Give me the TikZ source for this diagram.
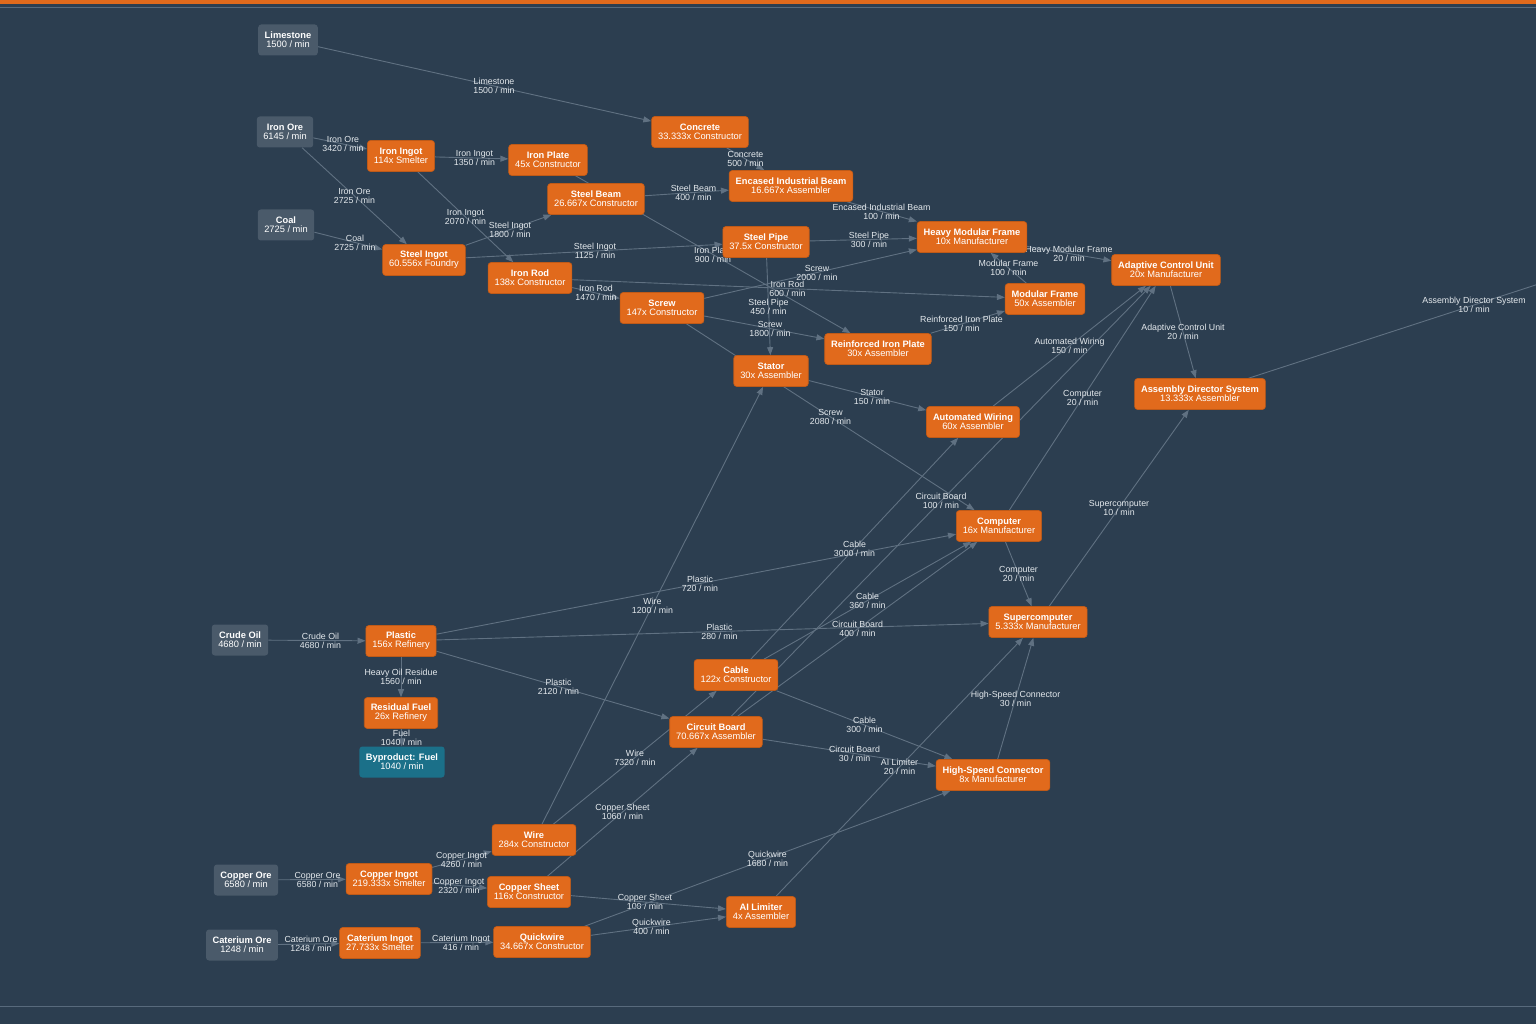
\documentclass[tikz,border=0pt]{standalone}
\usepackage{fontspec}
\setmainfont{Liberation Sans}
\usetikzlibrary{arrows.meta, positioning, calc}
\definecolor{bgcolor}{RGB}{44,62,80}
\definecolor{unitcolor}{RGB}{225,106,28}
\definecolor{srccolor}{RGB}{74,90,106}
\definecolor{fuelcolor}{RGB}{27,112,137}
\definecolor{flowcolor}{RGB}{96,113,130}
\definecolor{lblcolor}{RGB}{228,233,237}
\definecolor{rulecolor}{RGB}{88,106,124}
\pgfdeclarelayer{back}
\pgfdeclarelayer{flows}
\pgfsetlayers{back,flows,main}

\begin{document}
\begin{tikzpicture}[
    x=1pt, y=-1pt,
    box/.style={minimum height=31pt, inner xsep=6.5pt, inner ysep=0pt, rounded corners=3pt, align=center, text=white, font=\fontsize{9.3}{9}\selectfont},
    unit/.style={box, fill=unitcolor, draw=unitcolor!85!black, line width=0.6pt},
    src/.style={box, fill=srccolor},
    byprod/.style={box, fill=fuelcolor},
    flow/.style={-{Triangle[length=8pt, width=6pt]}, draw=flowcolor, line width=0.9pt},
    lbl/.style={text=lblcolor, align=center, inner sep=0pt, font=\fontsize{8.8}{9}\selectfont}
]
    \useasboundingbox (0,0) rectangle (1536,1024);

    % Page
    \begin{pgfonlayer}{back}
        \fill[bgcolor] (0,0) rectangle (1536,1024);
        \fill[unitcolor] (0,0) rectangle (1536,4);
        \draw[rulecolor, line width=0.8pt] (0,7) -- (1536,7);
        \draw[rulecolor, line width=0.8pt] (0,1006) -- (1536,1006);
    \end{pgfonlayer}

    % Raw resources
    \node[src] (limestone) at (288,40) {\textbf{Limestone}\\1500 / min};
    \node[src] (ironore) at (285,132) {\textbf{Iron Ore}\\6145 / min};
    \node[src] (coal) at (286,225) {\textbf{Coal}\\2725 / min};
    \node[src] (crudeoil) at (240,640) {\textbf{Crude Oil}\\4680 / min};
    \node[src] (copperore) at (246,880) {\textbf{Copper Ore}\\6580 / min};
    \node[src] (cateriumore) at (242,945) {\textbf{Caterium Ore}\\1248 / min};

    % Production
    \node[unit] (concrete) at (700,132) {\textbf{Concrete}\\33.333x Constructor};
    \node[unit] (ironingot) at (401,156) {\textbf{Iron Ingot}\\114x Smelter};
    \node[unit] (ironplate) at (548,160) {\textbf{Iron Plate}\\45x Constructor};
    \node[unit] (steelbeam) at (596,199) {\textbf{Steel Beam}\\26.667x Constructor};
    \node[unit] (encbeam) at (791,186) {\textbf{Encased Industrial Beam}\\16.667x Assembler};
    \node[unit] (steelingot) at (424,260) {\textbf{Steel Ingot}\\60.556x Foundry};
    \node[unit] (ironrod) at (530,278) {\textbf{Iron Rod}\\138x Constructor};
    \node[unit] (steelpipe) at (766,242) {\textbf{Steel Pipe}\\37.5x Constructor};
    \node[unit] (heavyframe) at (972,237) {\textbf{Heavy Modular Frame}\\10x Manufacturer};
    \node[unit] (adaptive) at (1166,270) {\textbf{Adaptive Control Unit}\\20x Manufacturer};
    \node[unit] (screw) at (662,308) {\textbf{Screw}\\147x Constructor};
    \node[unit] (modframe) at (1045,299) {\textbf{Modular Frame}\\50x Assembler};
    \node[unit] (reinplate) at (878,349) {\textbf{Reinforced Iron Plate}\\30x Assembler};
    \node[unit] (stator) at (771,371) {\textbf{Stator}\\30x Assembler};
    \node[unit] (director) at (1200,394) {\textbf{Assembly Director System}\\13.333x Assembler};
    \node[unit] (autowiring) at (973,422) {\textbf{Automated Wiring}\\60x Assembler};
    \node[unit] (computer) at (999,526) {\textbf{Computer}\\16x Manufacturer};
    \node[unit] (plastic) at (401,641) {\textbf{Plastic}\\156x Refinery};
    \node[unit] (supercomp) at (1038,622) {\textbf{Supercomputer}\\5.333x Manufacturer};
    \node[unit] (cable) at (736,675) {\textbf{Cable}\\122x Constructor};
    \node[unit] (resfuel) at (401,713) {\textbf{Residual Fuel}\\26x Refinery};
    \node[unit] (circuit) at (716,732) {\textbf{Circuit Board}\\70.667x Assembler};
    \node[byprod] (fuel) at (402,762) {\textbf{Byproduct: Fuel}\\1040 / min};
    \node[unit] (hsconn) at (993,775) {\textbf{High-Speed Connector}\\8x Manufacturer};
    \node[unit] (wire) at (534,840) {\textbf{Wire}\\284x Constructor};
    \node[unit] (copperingot) at (389,879) {\textbf{Copper Ingot}\\219.333x Smelter};
    \node[unit] (coppersheet) at (529,892) {\textbf{Copper Sheet}\\116x Constructor};
    \node[unit] (ailimiter) at (761,912) {\textbf{AI Limiter}\\4x Assembler};
    \node[unit] (cateriumingot) at (380,943) {\textbf{Caterium Ingot}\\27.733x Smelter};
    \node[unit] (quickwire) at (542,942) {\textbf{Quickwire}\\34.667x Constructor};

    % Final output leaves the page
    \coordinate (out) at (1748,216);

    % Flows
    \begin{pgfonlayer}{flows}
    \draw[flow] (limestone) -- (concrete) node[lbl] at ($(limestone)!.5!(concrete)$) {Limestone\\1500 / min};
    \draw[flow] (ironore) -- (ironingot) node[lbl] at ($(ironore)!.5!(ironingot)$) {Iron Ore\\3420 / min};
    \draw[flow] (ironore) -- (steelingot) node[lbl] at ($(ironore)!.5!(steelingot)$) {Iron Ore\\2725 / min};
    \draw[flow] (coal) -- (steelingot) node[lbl] at ($(coal)!.5!(steelingot)$) {Coal\\2725 / min};
    \draw[flow] (ironingot) -- (ironplate) node[lbl] at ($(ironingot)!.5!(ironplate)$) {Iron Ingot\\1350 / min};
    \draw[flow] (ironingot) -- (ironrod) node[lbl] at ($(ironingot)!.5!(ironrod)$) {Iron Ingot\\2070 / min};
    \draw[flow] (steelingot) -- (steelbeam) node[lbl] at ($(steelingot)!.5!(steelbeam)$) {Steel Ingot\\1800 / min};
    \draw[flow] (steelingot) -- (steelpipe) node[lbl] at ($(steelingot)!.5!(steelpipe)$) {Steel Ingot\\1125 / min};
    \draw[flow] (ironplate) -- (reinplate) node[lbl] at ($(ironplate)!.5!(reinplate)$) {Iron Plate\\900 / min};
    \draw[flow] (steelbeam) -- (encbeam) node[lbl] at ($(steelbeam)!.5!(encbeam)$) {Steel Beam\\400 / min};
    \draw[flow] (concrete) -- (encbeam) node[lbl] at ($(concrete)!.5!(encbeam)$) {Concrete\\500 / min};
    \draw[flow] (encbeam) -- (heavyframe) node[lbl] at ($(encbeam)!.5!(heavyframe)$) {Encased Industrial Beam\\100 / min};
    \draw[flow] (steelpipe) -- (heavyframe) node[lbl] at ($(steelpipe)!.5!(heavyframe)$) {Steel Pipe\\300 / min};
    \draw[flow] (screw) -- (heavyframe) node[lbl] at ($(screw)!.5!(heavyframe)$) {Screw\\2000 / min};
    \draw[flow] (ironrod) -- (modframe) node[lbl] at ($(ironrod)!.5!(modframe)$) {Iron Rod\\600 / min};
    \draw[flow] (ironrod) -- (screw) node[lbl] at ($(ironrod)!.5!(screw)$) {Iron Rod\\1470 / min};
    \draw[flow] (steelpipe) -- (stator) node[lbl] at ($(steelpipe)!.5!(stator)$) {Steel Pipe\\450 / min};
    \draw[flow] (screw) -- (reinplate) node[lbl] at ($(screw)!.5!(reinplate)$) {Screw\\1800 / min};
    \draw[flow] (reinplate) -- (modframe) node[lbl] at ($(reinplate)!.5!(modframe)$) {Reinforced Iron Plate\\150 / min};
    \draw[flow] (modframe) -- (heavyframe) node[lbl] at ($(modframe)!.5!(heavyframe)$) {Modular Frame\\100 / min};
    \draw[flow] (heavyframe) -- (adaptive) node[lbl] at ($(heavyframe)!.5!(adaptive)$) {Heavy Modular Frame\\20 / min};
    \draw[flow] (stator) -- (autowiring) node[lbl] at ($(stator)!.5!(autowiring)$) {Stator\\150 / min};
    \draw[flow] (screw) -- (computer) node[lbl] at ($(screw)!.5!(computer)$) {Screw\\2080 / min};
    \draw[flow] (autowiring) -- (adaptive) node[lbl] at ($(autowiring)!.5!(adaptive)$) {Automated Wiring\\150 / min};
    \draw[flow] (computer) -- (adaptive) node[lbl] at ($(computer)!.5!(adaptive)$) {Computer\\20 / min};
    \draw[flow] (circuit) -- (adaptive) node[lbl] at ($(circuit)!.5!(adaptive)$) {Circuit Board\\100 / min};
    \draw[flow] (adaptive) -- (director) node[lbl] at ($(adaptive)!.5!(director)$) {Adaptive Control Unit\\20 / min};
    \draw[flow] (supercomp) -- (director) node[lbl] at ($(supercomp)!.5!(director)$) {Supercomputer\\10 / min};
    \draw[flow] (director) -- (out) node[lbl] at ($(director)!.5!(out)$) {Assembly Director System\\10 / min};
    \draw[flow] (crudeoil) -- (plastic) node[lbl] at ($(crudeoil)!.5!(plastic)$) {Crude Oil\\4680 / min};
    \draw[flow] (plastic) -- (resfuel) node[lbl] at ($(plastic)!.5!(resfuel)$) {Heavy Oil Residue\\1560 / min};
    \draw[flow] (resfuel) -- (fuel) node[lbl] at ($(resfuel)!.5!(fuel)$) {Fuel\\1040 / min};
    \draw[flow] (plastic) -- (computer) node[lbl] at ($(plastic)!.5!(computer)$) {Plastic\\720 / min};
    \draw[flow] (plastic) -- (supercomp) node[lbl] at ($(plastic)!.5!(supercomp)$) {Plastic\\280 / min};
    \draw[flow] (plastic) -- (circuit) node[lbl] at ($(plastic)!.5!(circuit)$) {Plastic\\2120 / min};
    \draw[flow] (cable) -- (autowiring) node[lbl] at ($(cable)!.5!(autowiring)$) {Cable\\3000 / min};
    \draw[flow] (cable) -- (computer) node[lbl] at ($(cable)!.5!(computer)$) {Cable\\360 / min};
    \draw[flow] (circuit) -- (computer) node[lbl] at ($(circuit)!.5!(computer)$) {Circuit Board\\400 / min};
    \draw[flow] (computer) -- (supercomp) node[lbl] at ($(computer)!.5!(supercomp)$) {Computer\\20 / min};
    \draw[flow] (cable) -- (hsconn) node[lbl] at ($(cable)!.5!(hsconn)$) {Cable\\300 / min};
    \draw[flow] (circuit) -- (hsconn) node[lbl] at ($(circuit)!.5!(hsconn)$) {Circuit Board\\30 / min};
    \draw[flow] (hsconn) -- (supercomp) node[lbl] at ($(hsconn)!.5!(supercomp)$) {High-Speed Connector\\30 / min};
    \draw[flow] (ailimiter) -- (supercomp) node[lbl] at ($(ailimiter)!.5!(supercomp)$) {AI Limiter\\20 / min};
    \draw[flow] (wire) -- (stator) node[lbl] at ($(wire)!.5!(stator)$) {Wire\\1200 / min};
    \draw[flow] (wire) -- (cable) node[lbl] at ($(wire)!.5!(cable)$) {Wire\\7320 / min};
    \draw[flow] (coppersheet) -- (circuit) node[lbl] at ($(coppersheet)!.5!(circuit)$) {Copper Sheet\\1060 / min};
    \draw[flow] (copperore) -- (copperingot) node[lbl] at ($(copperore)!.5!(copperingot)$) {Copper Ore\\6580 / min};
    \draw[flow] (copperingot) -- (wire) node[lbl] at ($(copperingot)!.5!(wire)$) {Copper Ingot\\4260 / min};
    \draw[flow] (copperingot) -- (coppersheet) node[lbl] at ($(copperingot)!.5!(coppersheet)$) {Copper Ingot\\2320 / min};
    \draw[flow] (coppersheet) -- (ailimiter) node[lbl] at ($(coppersheet)!.5!(ailimiter)$) {Copper Sheet\\100 / min};
    \draw[flow] (quickwire) -- (ailimiter) node[lbl] at ($(quickwire)!.5!(ailimiter)$) {Quickwire\\400 / min};
    \draw[flow] (quickwire) -- (hsconn) node[lbl] at ($(quickwire)!.5!(hsconn)$) {Quickwire\\1680 / min};
    \draw[flow] (cateriumore) -- (cateriumingot) node[lbl] at ($(cateriumore)!.5!(cateriumingot)$) {Caterium Ore\\1248 / min};
    \draw[flow] (cateriumingot) -- (quickwire) node[lbl] at ($(cateriumingot)!.5!(quickwire)$) {Caterium Ingot\\416 / min};
    \end{pgfonlayer}
\end{tikzpicture}
\end{document}
